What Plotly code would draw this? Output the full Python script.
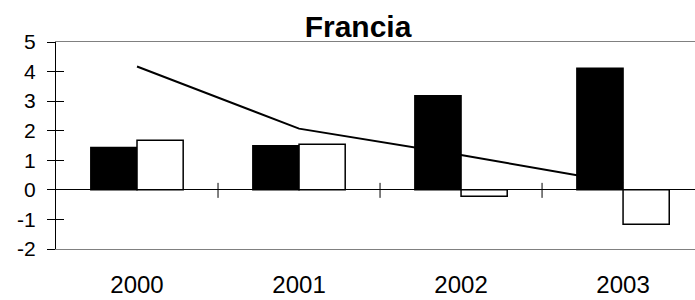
import plotly.graph_objects as go

years = ["2000", "2001", "2002", "2003"]
serie_negra = [1.43, 1.49, 3.18, 4.11]
serie_blanca = [1.68, 1.54, -0.22, -1.16]
serie_linea = [4.17, 2.07, 1.18, 0.22]
y_ticks = [5, 4, 3, 2, 1, 0, -1, -2]
titulo = "Francia"

FONT = "Liberation Sans, Arial, sans-serif"

fig = go.Figure()
fig.add_trace(go.Bar(x=years, y=serie_negra, marker=dict(color="black", line=dict(color="black", width=1.5)), showlegend=False))
fig.add_trace(go.Bar(x=years, y=serie_blanca, marker=dict(color="white", line=dict(color="black", width=1.5)), showlegend=False))
fig.add_trace(go.Scatter(x=years, y=serie_linea, mode="lines", line=dict(color="black", width=2), showlegend=False))
# invisible trace on overlay axis for inside ticks
fig.add_trace(go.Scatter(x=years, y=serie_linea, yaxis="y2", mode="lines", line=dict(width=0), opacity=0, showlegend=False, hoverinfo="skip"))

# category boundary ticks crossing the zero line
for xb in [0.5, 1.5, 2.5]:
    fig.add_shape(type="line", xref="x", yref="y", x0=xb, x1=xb, ysizemode="pixel", yanchor=0, y0=-8, y1=7,
                  line=dict(color="black", width=1))

fig.update_layout(
    width=695, height=300,
    margin=dict(l=56, r=0, t=42, b=51, autoexpand=False),
    paper_bgcolor="white", plot_bgcolor="white",
    barmode="group", bargap=0.43, bargroupgap=0,
    title=dict(text="<b>" + titulo + "</b>", x=358/695, xanchor="center", xref="container",
               y=1 - 26/300, yanchor="middle", yref="container", automargin=False,
               font=dict(family=FONT, size=30, color="black")),
    xaxis=dict(type="category", range=[-0.5, 3.444], showgrid=False, zeroline=False, automargin=False,
               showline=True, linecolor="#808080", linewidth=1, mirror=True,
               ticks="", tickfont=dict(family=FONT, size=24, color="black"), ticklabelstandoff=14),
    yaxis=dict(range=[-2, 5], tickvals=y_ticks, ticktext=[str(v) for v in y_ticks], automargin=False,
               showgrid=False, zeroline=True, zerolinecolor="black", zerolinewidth=1,
               showline=True, linecolor="black", linewidth=1,
               ticks="outside", ticklen=8, tickcolor="black", tickwidth=1,
               tickfont=dict(family=FONT, size=21, color="black"), ticklabelstandoff=7),
    yaxis2=dict(range=[-2, 5], tickvals=y_ticks, overlaying="y", side="left", showgrid=False, zeroline=False,
                automargin=False,
                showline=False, ticks="inside", ticklen=8, tickcolor="black", tickwidth=1, showticklabels=False),
)

fig.write_html("out.html", config={"displayModeBar": False},
               post_script="document.body.style.margin='0';document.body.style.overflow='hidden';")
